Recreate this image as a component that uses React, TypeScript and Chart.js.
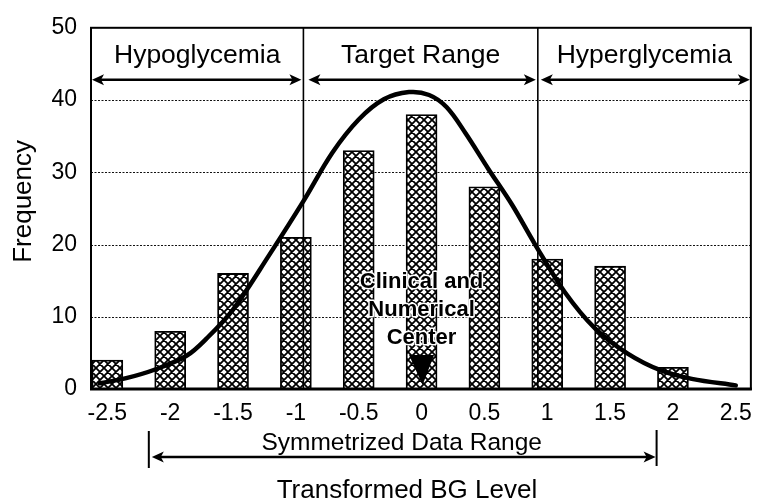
import React, { useEffect, useRef } from 'react';
import { Chart, registerables } from 'chart.js';

Chart.register(...registerables);

// ---- data ----
const xTicks = [-2.5, -2, -1.5, -1, -0.5, 0, 0.5, 1, 1.5, 2, 2.5];
const yTicks = [0, 10, 20, 30, 40, 50];
const barX = [-2.5, -2, -1.5, -1, -0.5, 0, 0.5, 1, 1.5, 2];
const barFreq = [4, 8, 16, 21, 33, 38, 28, 18, 17, 3];
const curveX = [-2.56, -2.35, -2.12, -1.87, -1.71, -1.5, -1.21, -0.94, -0.71, -0.5, -0.3, -0.1, 0.06, 0.2, 0.35, 0.53, 0.72, 0.9, 1.14, 1.38, 1.64, 1.9, 2.15, 2.5];
const curveY = [0.8, 1.5, 2.7, 4.6, 7.0, 11, 18.6, 26, 32.7, 37.3, 40.1, 41.1, 40.7, 39.0, 35.4, 30.5, 25.5, 20.1, 13.4, 8.4, 4.9, 2.6, 1.4, 0.5];
const regionEdges = [-0.94, 0.925];
const regionLabels = ['Hypoglycemia', 'Target Range', 'Hyperglycemia'];
const regionArrowLevel = 42.8;
const symRange = [-2.17, 1.87];
const symLabel = 'Symmetrized Data Range';
const centerValue = 0;
const centerLines = ['Clinical and', 'Numerical', 'Center'];
const xTitle = 'Transformed BG Level';
const yTitle = 'Frequency';
const xMin = -2.63;
const xMax = 2.62;
const yMin = 0;
const yMax = 50;

const FONT = "'Liberation Sans', Arial, Helvetica, sans-serif";

function makePattern(): CanvasPattern | string {
  const c = document.createElement('canvas');
  c.width = 8;
  c.height = 8;
  const g = c.getContext('2d');
  if (!g) return '#888';
  g.fillStyle = '#fff';
  g.fillRect(0, 0, 8, 8);
  g.strokeStyle = '#000';
  g.lineWidth = 1.8;
  g.beginPath();
  g.moveTo(-1, -1); g.lineTo(9, 9);
  g.moveTo(9, -1); g.lineTo(-1, 9);
  g.moveTo(7, -1); g.lineTo(9, 1);
  g.moveTo(-1, 7); g.lineTo(1, 9);
  g.moveTo(-1, 1); g.lineTo(1, -1);
  g.moveTo(7, 9); g.lineTo(9, 7);
  g.stroke();
  const p = g.createPattern(c, 'repeat');
  return p || '#888';
}

function arrowHead(ctx: CanvasRenderingContext2D, tipX: number, y: number, dir: number) {
  const L = 12;
  const W = 5.5;
  ctx.beginPath();
  ctx.moveTo(tipX, y);
  ctx.lineTo(tipX - dir * L, y - W);
  ctx.lineTo(tipX - dir * (L - 3), y);
  ctx.lineTo(tipX - dir * L, y + W);
  ctx.closePath();
  ctx.fill();
}

function dblArrow(ctx: CanvasRenderingContext2D, x1: number, x2: number, y: number) {
  ctx.beginPath();
  ctx.moveTo(x1 + 6, y);
  ctx.lineTo(x2 - 6, y);
  ctx.stroke();
  arrowHead(ctx, x1, y, -1);
  arrowHead(ctx, x2, y, 1);
}

const annot = {
  id: 'annot',
  beforeDatasetsDraw(chart: any) {
    const { ctx, chartArea: a, scales } = chart;
    const y = scales.y;
    ctx.save();
    ctx.strokeStyle = '#111';
    ctx.lineWidth = 1;
    ctx.setLineDash([2, 1.5]);
    for (const t of yTicks) {
      if (t === yMin || t === yMax) continue;
      const py = Math.round(y.getPixelForValue(t)) + 0.5;
      ctx.beginPath();
      ctx.moveTo(a.left, py);
      ctx.lineTo(a.right, py);
      ctx.stroke();
    }
    ctx.restore();
  },
  afterDatasetDraw(chart: any, args: any) {
    if (args.index !== 0) return;
    const { ctx, chartArea: a, scales } = chart;
    const x = scales.x;
    ctx.save();
    ctx.strokeStyle = '#000';
    ctx.lineWidth = 1.6;
    for (const e of regionEdges) {
      const px = x.getPixelForValue(e);
      ctx.beginPath();
      ctx.moveTo(px, a.top);
      ctx.lineTo(px, a.bottom);
      ctx.stroke();
    }
    ctx.restore();
  },
  afterDatasetsDraw(chart: any) {
    const { ctx, chartArea: a, scales } = chart;
    const x = scales.x;
    const y = scales.y;
    ctx.save();
    // frame
    ctx.strokeStyle = '#000';
    ctx.lineWidth = 2;
    ctx.strokeRect(a.left, a.top, a.right - a.left, a.bottom - a.top);
    ctx.lineWidth = 3;
    ctx.beginPath();
    ctx.moveTo(a.left - 1, a.bottom);
    ctx.lineTo(a.right + 1, a.bottom);
    ctx.stroke();

    // region arrows + labels
    const edges = [a.left, x.getPixelForValue(regionEdges[0]), x.getPixelForValue(regionEdges[1]), a.right];
    const ay = y.getPixelForValue(regionArrowLevel);
    ctx.fillStyle = '#000';
    ctx.lineWidth = 2.6;
    dblArrow(ctx, edges[0] + 1, edges[1] - 2, ay);
    dblArrow(ctx, edges[1] + 5, edges[2] - 2, ay);
    dblArrow(ctx, edges[2] + 3, edges[3] - 1, ay);
    ctx.font = `26.5px ${FONT}`;
    ctx.textAlign = 'center';
    ctx.textBaseline = 'alphabetic';
    for (let i = 0; i < 3; i++) {
      ctx.fillText(regionLabels[i], (edges[i] + edges[i + 1]) / 2, a.top + 35.5);
    }

    // center label + triangle
    const cx = x.getPixelForValue(centerValue);
    ctx.font = `bold 22px ${FONT}`;
    ctx.lineJoin = 'round';
    const bases = [a.bottom - 101, a.bottom - 73.5, a.bottom - 45.5];
    for (let i = 0; i < centerLines.length; i++) {
      ctx.strokeStyle = '#fff';
      ctx.lineWidth = 3;
      ctx.strokeText(centerLines[i], cx, bases[i]);
      ctx.fillStyle = '#000';
      ctx.fillText(centerLines[i], cx, bases[i]);
    }
    ctx.beginPath();
    ctx.moveTo(cx - 12.5, a.bottom - 34);
    ctx.lineTo(cx + 12.5, a.bottom - 34);
    ctx.lineTo(cx + 1, a.bottom - 4);
    ctx.closePath();
    ctx.fill();

    // symmetrized range
    const sx1 = x.getPixelForValue(symRange[0]);
    const sx2 = x.getPixelForValue(symRange[1]);
    const sy = a.bottom + 68;
    ctx.strokeStyle = '#000';
    ctx.lineWidth = 2;
    ctx.beginPath();
    ctx.moveTo(sx1, a.bottom + 42);
    ctx.lineTo(sx1, a.bottom + 79);
    ctx.moveTo(sx2, a.bottom + 41);
    ctx.lineTo(sx2, a.bottom + 77);
    ctx.stroke();
    ctx.lineWidth = 2.6;
    dblArrow(ctx, sx1 + 3, sx2 - 1, sy);
    ctx.font = `24.5px ${FONT}`;
    ctx.fillText(symLabel, (sx1 + sx2) / 2 - 1, a.bottom + 61);

    // axis titles
    ctx.font = `26px ${FONT}`;
    ctx.fillText(xTitle, (a.left + a.right) / 2 - 14, a.bottom + 108.5);
    ctx.save();
    ctx.translate(31, (a.top + a.bottom) / 2 - 7);
    ctx.rotate(-Math.PI / 2);
    ctx.fillText(yTitle, 0, 0);
    ctx.restore();
    ctx.restore();
  },
};

export default function App() {
  const ref = useRef<HTMLCanvasElement | null>(null);
  useEffect(() => {
    if (!ref.current) return;
    const pattern = makePattern();
    const chart = new Chart(ref.current, {
      type: 'bar',
      data: {
        datasets: [
          {
            type: 'bar',
            label: 'Frequency',
            data: barX.map((v, i) => ({ x: v, y: barFreq[i] })),
            backgroundColor: pattern as any,
            borderColor: '#000',
            borderWidth: 1.8,
            barThickness: 31,
            order: 2,
          } as any,
          {
            type: 'line',
            label: 'Fit',
            data: curveX.map((v, i) => ({ x: v, y: curveY[i] })),
            borderColor: '#000',
            borderWidth: 4.5,
            pointRadius: 0,
            fill: false,
            tension: 0.35,
            borderCapStyle: 'round',
            order: 1,
          } as any,
        ],
      },
      options: {
        responsive: false,
        maintainAspectRatio: false,
        animation: false,
        devicePixelRatio: 1,
        layout: { padding: { top: 19, right: 10, left: 0, bottom: 0 } },
        plugins: { legend: { display: false }, tooltip: { enabled: false } },
        scales: {
          x: {
            type: 'linear',
            min: xMin,
            max: xMax,
            offset: false,
            grid: { display: false, drawTicks: false },
            border: { display: false },
            afterBuildTicks: (s: any) => {
              s.ticks = xTicks.map((v) => ({ value: v }));
            },
            afterFit: (s: any) => {
              s.height = 110;
            },
            ticks: {
              autoSkip: false,
              maxRotation: 0,
              minRotation: 0,
              padding: 11,
              color: '#000',
              font: { family: FONT, size: 23 },
              callback: (v: any) => String(v),
            },
          },
          y: {
            type: 'linear',
            min: yMin,
            max: yMax,
            grid: { display: false, drawTicks: false },
            border: { display: false },
            afterBuildTicks: (s: any) => {
              s.ticks = yTicks.map((v) => ({ value: v }));
            },
            afterFit: (s: any) => {
              s.width = 91;
            },
            ticks: {
              padding: 14,
              color: '#000',
              font: { family: FONT, size: 23 },
            },
          },
        },
      },
      plugins: [annot],
    });
    return () => chart.destroy();
  }, []);
  return (
    <div style={{ position: 'absolute', left: 0, top: 0, width: 763, height: 499, background: '#fff' }}>
      <canvas ref={ref} width={763} height={499} style={{ display: 'block' }} />
    </div>
  );
}
